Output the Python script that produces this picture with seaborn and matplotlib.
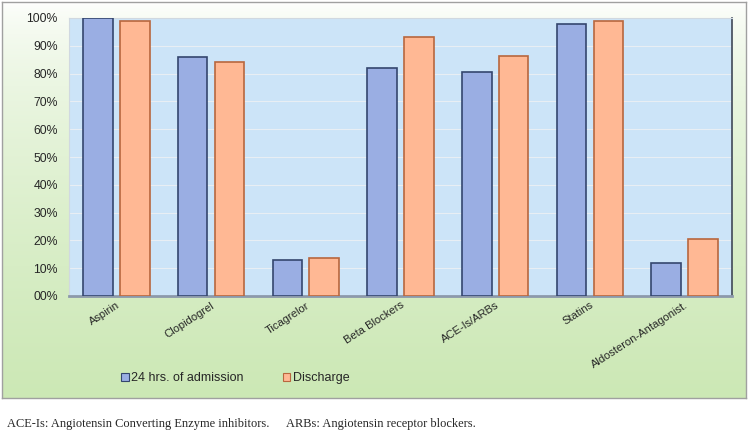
import numpy as np
import pandas as pd
import seaborn as sns
import matplotlib.pyplot as plt
from matplotlib.ticker import FixedLocator

drugs = ["Aspirin", "Clopidogrel", "Ticagrelor", "Beta Blockers",
         "ACE-Is/ARBs", "Statins", "Aldosteron-Antagonist."]
admission = [100, 86, 13, 82, 80.7, 98, 12]
discharge = [99, 84, 13.7, 93, 86.5, 99, 20.5]
series = ["24 hrs. of admission", "Discharge"]
ytick_labels = ["00%", "10%", "20%", "30%", "40%", "50%", "60%", "70%", "80%", "90%", "100%"]

df = pd.DataFrame({
    "drug": drugs * 2,
    "pct": admission + discharge,
    "when": [series[0]] * len(drugs) + [series[1]] * len(drugs),
})

sns.set_style("white")
plt.rcParams["font.family"] = ["Liberation Sans", "DejaVu Sans"]

fig = plt.figure(figsize=(7.49, 4.32), dpi=100)

# chart box with white -> green gradient
bg = fig.add_axes([2 / 749, 1 - 398 / 432, 744 / 749, 396 / 432])
yy, xx = np.mgrid[0:1:200j, 0:1:200j]
t = np.clip(yy ** 0.6, 0, 1)
top = np.array([1.0, 1.0, 1.0])
bot = np.array([0.80, 0.91, 0.71])
img = top[None, None, :] * (1 - t[..., None]) + bot[None, None, :] * t[..., None]
bg.imshow(img, aspect="auto", extent=[0, 1, 0, 1], origin="upper")
bg.set_xticks([])
bg.set_yticks([])
for s in bg.spines.values():
    s.set_color("#a0a0a0")
    s.set_linewidth(1.0)

ax = fig.add_axes([69 / 749, 1 - 296 / 432, 663 / 749, 278 / 432])
ax.set_facecolor("#cce4f8")
palette = {series[0]: "#9aaee3", series[1]: "#ffb894"}
sns.barplot(data=df, x="drug", y="pct", hue="when", palette=palette,
            width=0.78, gap=0.2, ax=ax, zorder=3, saturation=1)
edges = {series[0]: "#34466e", series[1]: "#b8673e"}
for cont, name in zip(ax.containers, series):
    for bar in cont:
        bar.set_edgecolor(edges[name])
        bar.set_linewidth(1.2)

ax.set_ylim(0, 100)
ax.set_xlim(-0.5, len(drugs) - 0.5)
ax.yaxis.set_major_locator(FixedLocator(np.arange(0, 101, 10)))
ax.set_yticklabels(ytick_labels, fontsize=8.8)
ax.grid(axis="y", color="#e8eef4", linewidth=0.8, zorder=0)
ax.tick_params(axis="y", length=0, pad=8)
ax.tick_params(axis="x", length=0, pad=3)
plt.setp(ax.get_xticklabels(), rotation=33, ha="right", rotation_mode="anchor", fontsize=8)
ax.set_xlabel("")
ax.set_ylabel("")
for side in ["top", "left"]:
    ax.spines[side].set_color("#d0d8e0")
    ax.spines[side].set_linewidth(0.8)
ax.spines["bottom"].set_color("#8c99ab")
ax.spines["bottom"].set_linewidth(2.0)
ax.spines["right"].set_color("#404858")
ax.spines["right"].set_linewidth(1.2)

leg = ax.legend(loc="center left", bbox_to_anchor=(110 / 749, 1 - 378 / 432),
                bbox_transform=fig.transFigure, ncol=2, frameon=False,
                fontsize=9, handlelength=0.6, handleheight=0.6, handletextpad=0.2,
                columnspacing=3.1)
for h, name in zip(leg.legend_handles, series):
    h.set_edgecolor(edges[name])
    h.set_linewidth(0.8)

fig.text(7 / 749, 1 - 424 / 432, "ACE-Is: Angiotensin Converting Enzyme inhibitors.",
         family="Liberation Serif", fontsize=8.9, va="center")
fig.text(286 / 749, 1 - 424 / 432, "ARBs: Angiotensin receptor blockers.",
         family="Liberation Serif", fontsize=8.9, va="center")

fig.savefig("out.png", dpi=100, facecolor="white")
